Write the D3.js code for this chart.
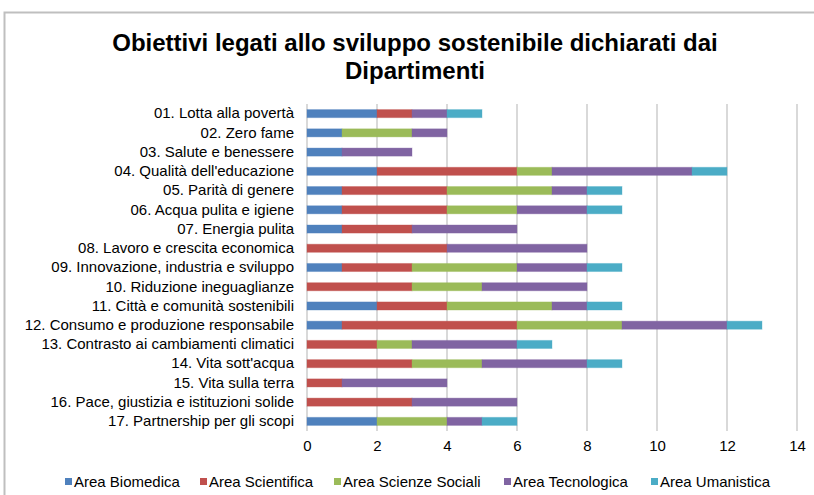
<!DOCTYPE html>
<html>
<head>
<meta charset="utf-8">
<script src="https://d3js.org/d3.v7.min.js"></script>
<style>
  body { margin: 0; background: #fff; }
  text { font-family: "Liberation Sans", Arial, sans-serif; fill: #000; }
</style>
</head>
<body>
<div id="chart"></div>
<script>
// categories (top to bottom)
var goals = [
  "01. Lotta alla povertà",
  "02. Zero fame",
  "03. Salute e benessere",
  "04. Qualità dell'educazione",
  "05. Parità di genere",
  "06. Acqua pulita e igiene",
  "07. Energia pulita",
  "08. Lavoro e crescita economica",
  "09. Innovazione, industria e sviluppo",
  "10. Riduzione ineguaglianze",
  "11. Città e comunità sostenibili",
  "12. Consumo e produzione responsabile",
  "13. Contrasto ai cambiamenti climatici",
  "14. Vita sott'acqua",
  "15. Vita sulla terra",
  "16. Pace, giustizia e istituzioni solide",
  "17. Partnership per gli scopi"
];

// series values, one per goal
var biomedica  = [2, 1, 1, 2, 1, 1, 1, 0, 1, 0, 2, 1, 0, 0, 0, 0, 2];
var scientifica = [1, 0, 0, 4, 3, 3, 2, 4, 2, 3, 2, 5, 2, 3, 1, 3, 0];
var sociali    = [0, 2, 0, 1, 3, 2, 0, 0, 3, 2, 3, 3, 1, 2, 0, 0, 2];
var tecnologica = [1, 1, 2, 4, 1, 2, 3, 4, 2, 3, 1, 3, 3, 3, 3, 3, 1];
var umanistica = [1, 0, 0, 1, 1, 1, 0, 0, 1, 0, 1, 1, 1, 1, 0, 0, 1];

var seriesNames = ["Area Biomedica", "Area Scientifica", "Area Scienze Sociali", "Area Tecnologica", "Area Umanistica"];
var seriesColors = ["#4f81bd", "#c0504d", "#9bbb59", "#8064a2", "#4bacc6"];
var xTicks = [0, 2, 4, 6, 8, 10, 12, 14];

var width = 814, height = 495;
var plot = {left: 307, right: 797, top: 104, bottom: 431};

var svg = d3.select("#chart")
    .append("svg")
        .attr("width", width)
        .attr("height", height);

svg.append("rect")
    .attr("width", width)
    .attr("height", height)
    .attr("fill", "#fff");

// outer frame (runs off right and bottom edges)
svg.append("rect")
    .attr("x", 4.5)
    .attr("y", 12.5)
    .attr("width", 900)
    .attr("height", 600)
    .attr("fill", "none")
    .attr("stroke", "#bfbfbf")
    .attr("stroke-width", 2);

// title
var title = svg.append("text")
    .attr("text-anchor", "middle")
    .attr("font-size", "24px")
    .attr("font-weight", "bold");
title.append("tspan").attr("x", 415).attr("y", 51)
    .text("Obiettivi legati allo sviluppo sostenibile dichiarati dai");
title.append("tspan").attr("x", 415).attr("y", 79)
    .text("Dipartimenti");

// scales
var xScale = d3.scaleLinear()
    .domain([0, 14])
    .range([plot.left, plot.right]);

var yScale = d3.scaleBand()
    .domain(goals)
    .range([plot.top, plot.bottom])
    .paddingInner(0.58)
    .paddingOuter(0.29);

// gridlines
svg.append("g")
    .selectAll("line")
    .data(xTicks)
    .enter()
    .append("line")
        .attr("x1", d => xScale(d))
        .attr("x2", d => xScale(d))
        .attr("y1", plot.top)
        .attr("y2", plot.bottom)
        .attr("stroke", "#d9d9d9")
        .attr("stroke-width", 2);

// x axis labels
var xAxis = svg.append("g")
    .attr("transform", "translate(0," + (plot.bottom + 9) + ")")
    .call(d3.axisBottom(xScale).tickValues(xTicks).tickSize(0).tickPadding(0));
xAxis.select(".domain").remove();
xAxis.selectAll("text")
    .attr("font-size", "15px")
    .attr("font-family", "Liberation Sans, Arial, sans-serif")
    .attr("fill", "#000");

// y axis labels
var yAxis = svg.append("g")
    .attr("transform", "translate(" + (plot.left - 13) + ",0)")
    .call(d3.axisLeft(yScale).tickSize(0).tickPadding(0));
yAxis.select(".domain").remove();
yAxis.selectAll("text")
    .attr("font-size", "15px")
    .attr("font-family", "Liberation Sans, Arial, sans-serif")
    .attr("fill", "#000");

// stacked bars
var rows = goals.map(function(g, i) {
  return {goal: g, b: biomedica[i], s: scientifica[i], so: sociali[i], t: tecnologica[i], u: umanistica[i]};
});
var stack = d3.stack().keys(["b", "s", "so", "t", "u"]);
var stacked = stack(rows);

svg.append("g")
    .selectAll("g")
    .data(stacked)
    .enter()
    .append("g")
        .attr("fill", (d, i) => seriesColors[i])
        .attr("stroke", (d, i) => seriesColors[i])
        .attr("stroke-opacity", 0.35)
    .selectAll("rect")
    .data(d => d.filter(p => p[1] > p[0]))
    .enter()
    .append("rect")
        .attr("x", d => xScale(d[0]))
        .attr("y", d => yScale(d.data.goal))
        .attr("width", d => xScale(d[1]) - xScale(d[0]))
        .attr("height", yScale.bandwidth());

// legend
var legendX = [65, 200, 334, 504, 651];
var legend = svg.append("g")
    .selectAll("g")
    .data(seriesNames)
    .enter()
    .append("g")
        .attr("transform", (d, i) => "translate(" + legendX[i] + ",482)");
legend.append("rect")
    .attr("x", 0)
    .attr("y", -4)
    .attr("width", 7)
    .attr("height", 7)
    .attr("fill", (d, i) => seriesColors[i]);
legend.append("text")
    .attr("x", 9)
    .attr("y", 5)
    .attr("font-size", "15px")
    .text(d => d);
</script>
</body>
</html>
